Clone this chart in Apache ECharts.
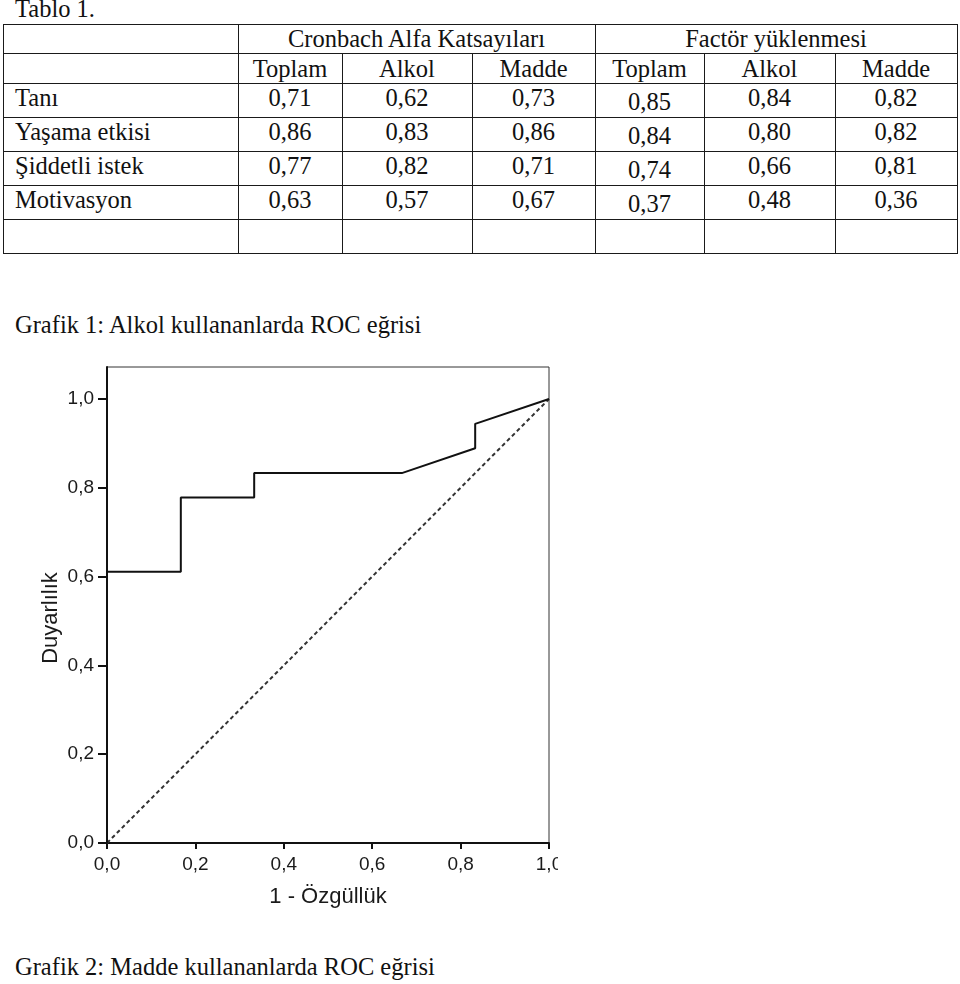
<!DOCTYPE html>
<html>
<head>
<meta charset="utf-8">
<script src="https://cdn.jsdelivr.net/npm/echarts@6/dist/echarts.min.js"></script>
<style>
  html, body { margin: 0; padding: 0; background: #fff; }
  #page { position: relative; width: 960px; height: 984px; overflow: hidden; background: #fff;
          font-family: "Liberation Serif", "Times New Roman", serif; color: #111; }
  .txt { position: absolute; font-size: 24.5px; line-height: 24px; white-space: nowrap; }
  .hl { position: absolute; height: 1px; background: #1a1a1a; }
  .vl { position: absolute; width: 1px; background: #1a1a1a; }
  .cell { position: absolute; font-size: 24.5px; white-space: nowrap; text-align: center; }
  #chart { position: absolute; left: 0; top: 340px; width: 558px; height: 580px; }
</style>
</head>
<body>
<div id="page">
  <div id="table"></div>
  <div id="chart"></div>
</div>
<script>
// ---------------- data ----------------
var tableTitle = "Tablo 1.";
var groupHeaders = ["Cronbach Alfa Katsayıları", "Factör yüklenmesi"];
var subHeaders = ["Toplam", "Alkol", "Madde", "Toplam", "Alkol", "Madde"];
var rowLabels = ["Tanı", "Yaşama etkisi", "Şiddetli istek", "Motivasyon"];
var cronbachToplam = [0.71, 0.86, 0.77, 0.63];
var cronbachAlkol  = [0.62, 0.83, 0.82, 0.57];
var cronbachMadde  = [0.73, 0.86, 0.71, 0.67];
var factorToplam   = [0.85, 0.84, 0.74, 0.37];
var factorAlkol    = [0.84, 0.80, 0.66, 0.48];
var factorMadde    = [0.82, 0.82, 0.81, 0.36];

var caption1 = "Grafik 1: Alkol kullananlarda ROC eğrisi";
var caption2 = "Grafik 2: Madde kullananlarda ROC eğrisi";

var xAxisTitle = "1 - Özgüllük";
var yAxisTitle = "Duyarlılık";
var tickValues = [0, 0.2, 0.4, 0.6, 0.8, 1.0];

// ROC curve (1 - specificity, sensitivity)
var rocX = [0, 0, 0.167, 0.167, 0.333, 0.333, 0.667, 0.833, 0.833, 1.0];
var rocY = [0, 0.611, 0.611, 0.778, 0.778, 0.833, 0.833, 0.889, 0.944, 1.0];
// reference diagonal
var refX = [0, 1];
var refY = [0, 1];

// ---------------- table (HTML) ----------------
var colX = [3, 238, 342, 472, 595, 704, 835, 957];
var rowY = [24, 53, 83, 117, 151, 185, 219, 253];
var tbl = document.getElementById('table');
function addDiv(cls, style, text) {
  var d = document.createElement('div');
  d.className = cls;
  for (var k in style) d.style[k] = style[k];
  if (text !== undefined) d.textContent = text;
  tbl.appendChild(d);
  return d;
}
function fmt(v) { return v.toFixed(2).replace('.', ','); }

addDiv('txt', {left: '15px', top: '-3px'}, tableTitle);
addDiv('txt', {left: '15px', top: '313px'}, caption1);
addDiv('txt', {left: '15px', top: '955px'}, caption2);

// horizontal lines
rowY.forEach(function (y) {
  addDiv('hl', {left: colX[0] + 'px', top: y + 'px', width: (colX[7] - colX[0] + 1) + 'px'});
});
// vertical lines
colX.forEach(function (x, i) {
  var top = rowY[0];
  if (i === 2 || i === 3 || i === 5 || i === 6) top = rowY[1]; // merged group header
  addDiv('vl', {left: x + 'px', top: top + 'px', height: (rowY[7] - top + 1) + 'px'});
});

function cell(x0, x1, y0, y1, text, dy, align) {
  var h = y1 - y0;
  var st = {left: x0 + 'px', top: (y0 + (dy || 0)) + 'px', width: (x1 - x0) + 'px',
            height: h + 'px', lineHeight: h + 'px'};
  if (align === 'left') { st.textAlign = 'left'; st.paddingLeft = '12px'; st.width = (x1 - x0 - 12) + 'px'; }
  addDiv('cell', st, text);
}
// group headers
cell(colX[1], colX[4], rowY[0], rowY[1], groupHeaders[0], 0);
cell(colX[4], colX[7], rowY[0], rowY[1], groupHeaders[1], 0);
// sub headers
subHeaders.forEach(function (s, i) { cell(colX[i + 1], colX[i + 2], rowY[1], rowY[2], s, 1); });
// data rows
var cols = [cronbachToplam, cronbachAlkol, cronbachMadde, factorToplam, factorAlkol, factorMadde];
rowLabels.forEach(function (lab, r) {
  cell(colX[0], colX[1], rowY[r + 2], rowY[r + 3], lab, -2, 'left');
  cols.forEach(function (arr, c) {
    cell(colX[c + 1], colX[c + 2], rowY[r + 2], rowY[r + 3], fmt(arr[r]), c === 3 ? 2 : -2);
  });
});

// ---------------- chart (ECharts) ----------------
var chart = echarts.init(document.getElementById('chart'), null, {renderer: 'canvas'});
function pairs(xs, ys) { return xs.map(function (x, i) { return [x, ys[i]]; }); }
function axFmt(v) { return v.toFixed(1).replace('.', ','); }
var sans = '"Liberation Sans", Arial, sans-serif';

chart.setOption({
  animation: false,
  backgroundColor: 'transparent',
  grid: {
    left: 107, top: 27, right: 9, bottom: 77,
    show: true, borderColor: '#333', borderWidth: 1, backgroundColor: 'transparent',
    containLabel: false, outerBoundsMode: 'none'
  },
  xAxis: {
    type: 'value', min: 0, max: 1, interval: 0.2,
    name: xAxisTitle, nameLocation: 'middle', nameGap: 43, nameMoveOverlap: false,
    nameTextStyle: {fontFamily: sans, fontSize: 22, color: '#1a1a1a'},
    axisLine: {show: true, onZero: false, lineStyle: {color: '#111', width: 2}},
    axisTick: {show: true, length: 6, lineStyle: {color: '#111', width: 2}},
    axisLabel: {fontFamily: sans, fontSize: 19, color: '#1a1a1a', margin: 12, formatter: axFmt},
    splitLine: {show: false}
  },
  yAxis: {
    type: 'value', min: 0, max: 1.072,
    name: yAxisTitle, nameLocation: 'middle', nameGap: 45, nameRotate: 90, nameMoveOverlap: false,
    nameTextStyle: {fontFamily: sans, fontSize: 22, color: '#1a1a1a', padding: [0, 26, 0, 0]},
    axisLine: {show: true, onZero: false, lineStyle: {color: '#111', width: 2}},
    axisTick: {show: true, length: 9, customValues: tickValues, lineStyle: {color: '#111', width: 2}},
    axisLabel: {fontFamily: sans, fontSize: 19, color: '#1a1a1a', margin: 13, customValues: tickValues, formatter: axFmt},
    splitLine: {show: false}
  },
  series: [
    {
      type: 'line', data: pairs(refX, refY), showSymbol: false, silent: true,
      lineStyle: {color: '#333', width: 2, type: [4, 3]}, z: 2
    },
    {
      type: 'line', data: pairs(rocX, rocY), showSymbol: false, silent: true,
      lineStyle: {color: '#111', width: 2}, z: 3
    }
  ]
});
</script>
</body>
</html>
